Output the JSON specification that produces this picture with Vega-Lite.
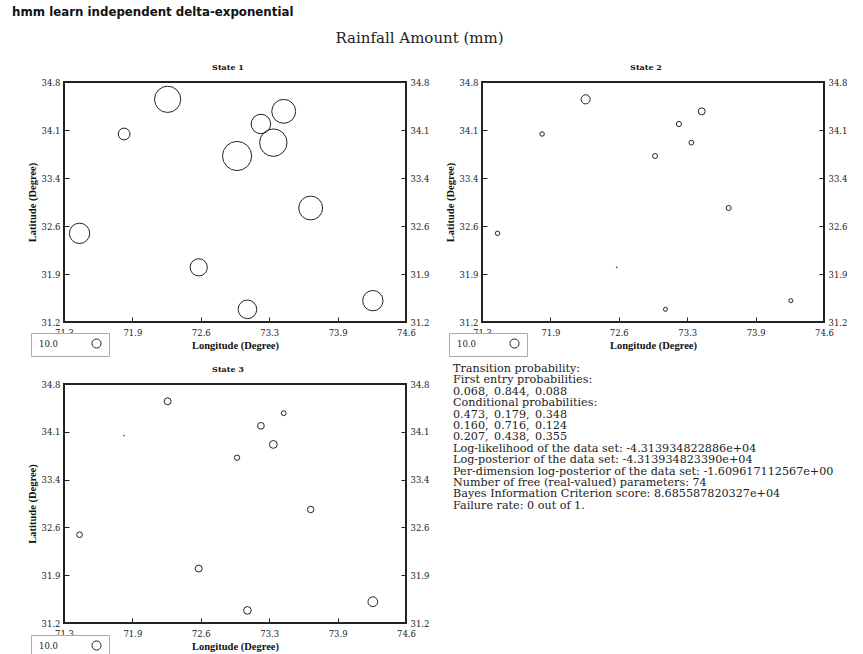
{
  "$schema": "https://vega.github.io/schema/vega-lite/v6.json",
  "background": "white",
  "padding": {"left": 12, "top": 7, "right": 0, "bottom": 0},
  "title": {"text": "hmm learn independent delta-exponential", "anchor": "start", "frame": "bounds", "font": "DejaVu Sans", "fontSize": 11.8, "fontWeight": "bold", "color": "#111", "dx": -14, "offset": 12},
  "datasets": {
    "rain": [
      {"state": 1, "lon": 72.30, "lat": 34.54, "rain": 28.8},
      {"state": 1, "lon": 71.88, "lat": 34.02, "rain": 12.9},
      {"state": 1, "lon": 73.42, "lat": 34.36, "rain": 26.2},
      {"state": 1, "lon": 73.20, "lat": 34.17, "rain": 21.4},
      {"state": 1, "lon": 73.32, "lat": 33.89, "rain": 30.1},
      {"state": 1, "lon": 72.97, "lat": 33.69, "rain": 32.0},
      {"state": 1, "lon": 73.68, "lat": 32.91, "rain": 26.2},
      {"state": 1, "lon": 71.45, "lat": 32.53, "rain": 22.3},
      {"state": 1, "lon": 72.60, "lat": 32.02, "rain": 18.9},
      {"state": 1, "lon": 73.07, "lat": 31.39, "rain": 20.4},
      {"state": 1, "lon": 74.28, "lat": 31.52, "rain": 22.3},
      {"state": 2, "lon": 72.30, "lat": 34.54, "rain": 10.0},
      {"state": 2, "lon": 71.88, "lat": 34.02, "rain": 4.9},
      {"state": 2, "lon": 73.42, "lat": 34.36, "rain": 7.6},
      {"state": 2, "lon": 73.20, "lat": 34.17, "rain": 5.7},
      {"state": 2, "lon": 73.32, "lat": 33.89, "rain": 5.2},
      {"state": 2, "lon": 72.97, "lat": 33.69, "rain": 5.5},
      {"state": 2, "lon": 73.68, "lat": 32.91, "rain": 5.5},
      {"state": 2, "lon": 71.45, "lat": 32.53, "rain": 4.9},
      {"state": 2, "lon": 72.60, "lat": 32.02, "rain": 1.0},
      {"state": 2, "lon": 73.07, "lat": 31.39, "rain": 4.4},
      {"state": 2, "lon": 74.28, "lat": 31.52, "rain": 4.4},
      {"state": 3, "lon": 72.30, "lat": 34.54, "rain": 7.6},
      {"state": 3, "lon": 71.88, "lat": 34.02, "rain": 0.8},
      {"state": 3, "lon": 73.42, "lat": 34.36, "rain": 5.3},
      {"state": 3, "lon": 73.20, "lat": 34.17, "rain": 7.4},
      {"state": 3, "lon": 73.32, "lat": 33.89, "rain": 8.6},
      {"state": 3, "lon": 72.97, "lat": 33.69, "rain": 5.8},
      {"state": 3, "lon": 73.68, "lat": 32.91, "rain": 7.1},
      {"state": 3, "lon": 71.45, "lat": 32.53, "rain": 6.3},
      {"state": 3, "lon": 72.60, "lat": 32.02, "rain": 7.6},
      {"state": 3, "lon": 73.07, "lat": 31.39, "rain": 8.4},
      {"state": 3, "lon": 74.28, "lat": 31.52, "rain": 10.7}
    ],
    "stats": [
      {"line": 0, "col": 0, "text": "Transition probability:"},
      {"line": 1, "col": 0, "text": "First entry probabilities:"},
      {"line": 2, "col": 0, "text": "0.068,"},
      {"line": 2, "col": 1, "text": "0.844,"},
      {"line": 2, "col": 2, "text": "0.088"},
      {"line": 3, "col": 0, "text": "Conditional probabilities:"},
      {"line": 4, "col": 0, "text": "0.473,"},
      {"line": 4, "col": 1, "text": "0.179,"},
      {"line": 4, "col": 2, "text": "0.348"},
      {"line": 5, "col": 0, "text": "0.160,"},
      {"line": 5, "col": 1, "text": "0.716,"},
      {"line": 5, "col": 2, "text": "0.124"},
      {"line": 6, "col": 0, "text": "0.207,"},
      {"line": 6, "col": 1, "text": "0.438,"},
      {"line": 6, "col": 2, "text": "0.355"},
      {"line": 7, "col": 0, "text": "Log-likelihood of the data set: -4.313934822886e+04"},
      {"line": 8, "col": 0, "text": "Log-posterior of the data set: -4.313934823390e+04"},
      {"line": 9, "col": 0, "text": "Per-dimension log-posterior of the data set: -1.609617112567e+00"},
      {"line": 10, "col": 0, "text": "Number of free (real-valued) parameters: 74"},
      {"line": 11, "col": 0, "text": "Bayes Information Criterion score: 8.685587820327e+04"},
      {"line": 12, "col": 0, "text": "Failure rate: 0 out of 1."}
    ]
  },
  "vconcat": [
    {
      "title": {"text": "Rainfall Amount (mm)", "anchor": "middle", "frame": "bounds", "font": "DejaVu Serif", "fontSize": 15, "fontWeight": "normal", "color": "#222", "dx": -20, "offset": 17},
      "spacing": 4,
      "resolve": {"scale": {"size": "independent"}, "legend": {"size": "independent"}},
      "vconcat": [
        {
          "spacing": 14,
          "resolve": {"scale": {"size": "independent"}, "legend": {"size": "independent"}},
          "hconcat": [
            {
              "width": 342, "height": 240,
              "title": {"text": "State 1"},
              "data": {"name": "rain"},
              "transform": [{"filter": "datum.state == 1"}],
              "layer": [
                {"mark": {"type": "point", "shape": "circle", "filled": false, "stroke": "#222", "strokeWidth": 1, "opacity": 1},
                 "encoding": {
                   "x": {"field": "lon", "type": "quantitative", "title": "Longitude (Degree)", "scale": {"domain": [71.3, 74.6], "nice": false, "zero": false}, "axis": {"values": [71.3, 71.96, 72.62, 73.28, 73.94, 74.6], "labelExpr": "datum.value == 71.96 ? '71.9' : format(datum.value, '.1f')", "labelPadding": 11}},
                   "y": {"field": "lat", "type": "quantitative", "title": "Latitude (Degree)", "scale": {"domain": [31.2, 34.8], "nice": false, "zero": false}, "axis": {"values": [31.2, 31.92, 32.64, 33.36, 34.08, 34.8], "format": ".1f", "orient": "left"}},
                   "size": {"field": "rain", "type": "quantitative", "scale": {"type": "pow", "exponent": 2, "domain": [0, 40], "range": [0, 1330]}, "legend": {"values": [10], "format": ".1f", "title": null, "orient": "none", "legendX": -33, "legendY": 251, "direction": "horizontal"}}
                 }},
                {"mark": {"type": "point", "opacity": 0},
                 "encoding": {
                   "y": {"field": "lat", "type": "quantitative", "scale": {"domain": [31.2, 34.8], "nice": false, "zero": false}, "axis": {"values": [31.2, 31.92, 32.64, 33.36, 34.08, 34.8], "format": ".1f", "orient": "right", "title": null}}
                 }}
              ],
              "resolve": {"axis": {"y": "independent"}}
            },
            {
              "width": 342, "height": 240,
              "title": {"text": "State 2"},
              "data": {"name": "rain"},
              "transform": [{"filter": "datum.state == 2"}],
              "layer": [
                {"mark": {"type": "point", "shape": "circle", "filled": false, "stroke": "#222", "strokeWidth": 1, "opacity": 1},
                 "encoding": {
                   "x": {"field": "lon", "type": "quantitative", "title": "Longitude (Degree)", "scale": {"domain": [71.3, 74.6], "nice": false, "zero": false}, "axis": {"values": [71.3, 71.96, 72.62, 73.28, 73.94, 74.6], "labelExpr": "datum.value == 71.96 ? '71.9' : format(datum.value, '.1f')", "labelPadding": 11}},
                   "y": {"field": "lat", "type": "quantitative", "title": "Latitude (Degree)", "scale": {"domain": [31.2, 34.8], "nice": false, "zero": false}, "axis": {"values": [31.2, 31.92, 32.64, 33.36, 34.08, 34.8], "format": ".1f", "orient": "left"}},
                   "size": {"field": "rain", "type": "quantitative", "scale": {"type": "pow", "exponent": 2, "domain": [0, 40], "range": [0, 1330]}, "legend": {"values": [10], "format": ".1f", "title": null, "orient": "none", "legendX": -33, "legendY": 251, "direction": "horizontal"}}
                 }},
                {"mark": {"type": "point", "opacity": 0},
                 "encoding": {
                   "y": {"field": "lat", "type": "quantitative", "scale": {"domain": [31.2, 34.8], "nice": false, "zero": false}, "axis": {"values": [31.2, 31.92, 32.64, 33.36, 34.08, 34.8], "format": ".1f", "orient": "right", "title": null}}
                 }}
              ],
              "resolve": {"axis": {"y": "independent"}}
            }
          ]
        },
        {
          "spacing": 23,
          "resolve": {"scale": {"size": "independent"}, "legend": {"size": "independent"}},
          "hconcat": [
            {
              "width": 342, "height": 239,
              "title": {"text": "State 3"},
              "data": {"name": "rain"},
              "transform": [{"filter": "datum.state == 3"}],
              "layer": [
                {"mark": {"type": "point", "shape": "circle", "filled": false, "stroke": "#222", "strokeWidth": 1, "opacity": 1},
                 "encoding": {
                   "x": {"field": "lon", "type": "quantitative", "title": "Longitude (Degree)", "scale": {"domain": [71.3, 74.6], "nice": false, "zero": false}, "axis": {"values": [71.3, 71.96, 72.62, 73.28, 73.94, 74.6], "labelExpr": "datum.value == 71.96 ? '71.9' : format(datum.value, '.1f')", "labelPadding": 11}},
                   "y": {"field": "lat", "type": "quantitative", "title": "Latitude (Degree)", "scale": {"domain": [31.2, 34.8], "nice": false, "zero": false}, "axis": {"values": [31.2, 31.92, 32.64, 33.36, 34.08, 34.8], "format": ".1f", "orient": "left"}},
                   "size": {"field": "rain", "type": "quantitative", "scale": {"type": "pow", "exponent": 2, "domain": [0, 40], "range": [0, 1330]}, "legend": {"values": [10], "format": ".1f", "title": null, "orient": "none", "legendX": -33, "legendY": 251, "direction": "horizontal"}}
                 }},
                {"mark": {"type": "point", "opacity": 0},
                 "encoding": {
                   "y": {"field": "lat", "type": "quantitative", "scale": {"domain": [31.2, 34.8], "nice": false, "zero": false}, "axis": {"values": [31.2, 31.92, 32.64, 33.36, 34.08, 34.8], "format": ".1f", "orient": "right", "title": null}}
                 }}
              ],
              "resolve": {"axis": {"y": "independent"}}
            },
            {
              "width": 400, "height": 148,
              "view": {"stroke": null},
              "data": {"name": "stats"},
              "mark": {"type": "text", "align": "left", "baseline": "middle", "font": "DejaVu Serif", "fontSize": 11.2, "color": "#222"},
              "encoding": {
                "x": {"field": "col", "type": "quantitative", "scale": {"domain": [0, 9.75], "nice": false, "zero": true}, "axis": null},
                "y": {"field": "line", "type": "quantitative", "scale": {"domain": [1.316, 14.298], "nice": false, "zero": false, "reverse": true}, "axis": null},
                "text": {"field": "text"}
              }
            }
          ]
        }
      ]
    }
  ],
  "config": {
    "view": {"stroke": "#222", "strokeWidth": 2},
    "title": {"font": "DejaVu Serif", "fontSize": 8, "fontWeight": "bold", "color": "#111", "frame": "bounds", "offset": 6, "anchor": "middle"},
    "axis": {"grid": false, "domain": false, "tickSize": -5, "tickColor": "#222", "tickWidth": 1, "labelPadding": 9, "labelFont": "DejaVu Serif", "labelFontSize": 8.5, "labelColor": "#222", "labelFlush": false, "labelOverlap": false, "titleFont": "Liberation Serif", "titleFontSize": 10.5, "titleFontWeight": "bold", "titleColor": "#111", "titlePadding": 4},
    "legend": {"strokeColor": "#aaa", "fillColor": "white", "padding": 5, "labelFont": "DejaVu Serif", "labelFontSize": 8.5, "labelColor": "#222", "symbolStrokeColor": "#222", "symbolFillColor": "transparent", "symbolStrokeWidth": 1, "symbolOffset": 55, "labelOffset": -63, "cornerRadius": 0}
  }
}
